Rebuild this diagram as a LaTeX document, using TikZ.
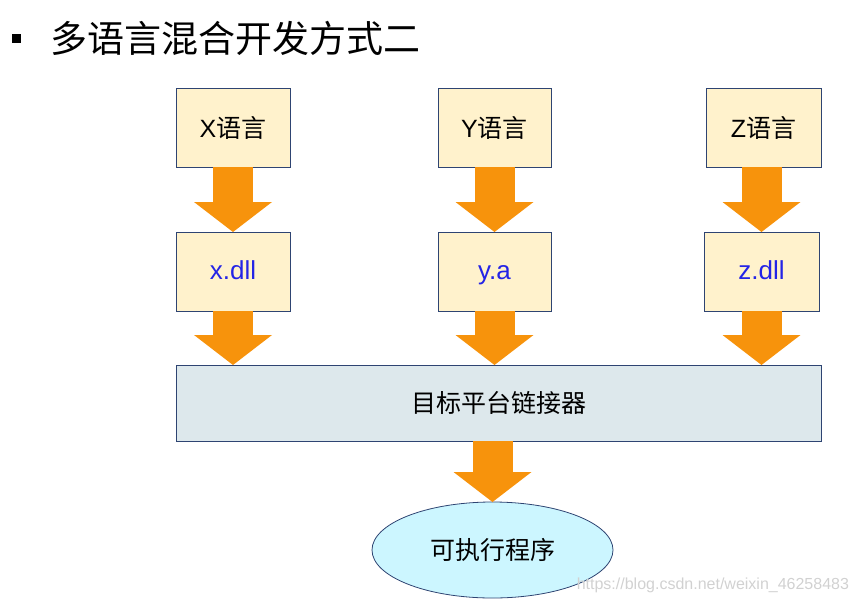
\documentclass[tikz,border=0pt]{standalone}
\usepackage{fontspec}
\setmainfont{Liberation Sans}
\newfontfamily\cjk{Noto Sans CJK SC}
\usetikzlibrary{shapes.geometric,arrows.meta}
\definecolor{boxfill}{HTML}{FFF2CC}
\definecolor{boxline}{HTML}{2E4472}
\definecolor{linkfill}{HTML}{DDE8EC}
\definecolor{exefill}{HTML}{CCF6FF}
\definecolor{flowcolor}{HTML}{F7930C}
\definecolor{libtext}{HTML}{2424E6}

\begin{document}
\begin{tikzpicture}[x=1pt,y=-1pt,
every node/.style={
rectangle,
align=center,
anchor=center,
outer sep=0pt,
},
box/.style={
draw=boxline,
line width=0.8pt,
fill=boxfill,
minimum height=79pt,
font=\fontsize{25}{28}\selectfont,
},
lib/.style={
box,
text=libtext,
font=\fontsize{26}{28}\selectfont,
text height=18.7pt,
text depth=2pt,
},
flow/.style={
draw=flowcolor,
line width=40pt,
-{Triangle[length=30pt,width=78pt,line width=0pt]},
}]
\useasboundingbox (0,0) rectangle (857,606);

%title
\node[fill=black,minimum width=9pt,minimum height=9pt,inner sep=0pt](bullet)at(16.5,38){};
\node[anchor=west,inner sep=0pt,font=\cjk\fontsize{37}{40}\selectfont](title)at(50,38){多语言混合开发方式二};

%source languages
\node[box,minimum width=114pt](xlang)at(233,127.5){X{\cjk 语言}};
\node[box,minimum width=113pt](ylang)at(494.5,127.5){Y{\cjk 语言}};
\node[box,minimum width=115pt](zlang)at(763.5,127.5){Z{\cjk 语言}};

%libraries
\node[lib,minimum width=114pt](xlib)at(233,271.5){x.dll};
\node[lib,minimum width=113pt](ylib)at(494.5,271.5){y.a};
\node[lib,minimum width=115pt](zlib)at(761.5,271.5){z.dll};

%linker
\node[box,fill=linkfill,minimum width=645pt,minimum height=76pt,font=\cjk\fontsize{25}{28}\selectfont](linker)at(498.5,403){目标平台链接器};

%result
\node[ellipse,draw=boxline,line width=0.8pt,fill=exefill,minimum width=241pt,minimum height=96pt,font=\cjk\fontsize{25}{28}\selectfont](exe)at(492.5,550){可执行程序};

%arrows
\draw[flow](xlang.south)--(xlib.north);
\draw[flow](ylang.south)--(ylib.north);
\draw[flow](zlang.south -| zlib.north)--(zlib.north);
\draw[flow](xlib.south)--(xlib.south |- linker.north);
\draw[flow](ylib.south)--(ylib.south |- linker.north);
\draw[flow](zlib.south)--(zlib.south |- linker.north);
\draw[flow](exe.north |- linker.south)--(exe.north);

%watermark
\node[anchor=east,inner sep=0pt,text=black!18,font=\fontsize{16}{18}\selectfont](mark)at(849,585){https://blog.csdn.net/weixin\_46258483};
\end{tikzpicture}
\end{document}
